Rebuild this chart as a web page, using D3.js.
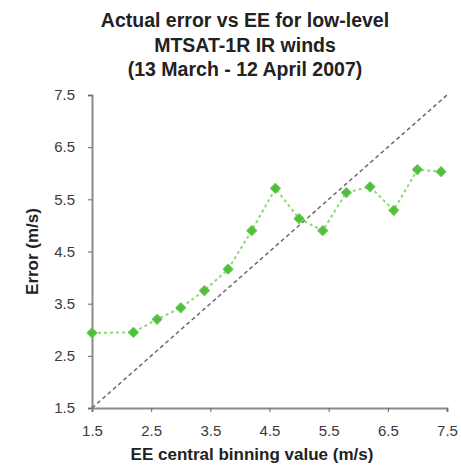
<!DOCTYPE html>
<html>
<head>
<meta charset="utf-8">
<script src="https://cdn.jsdelivr.net/npm/d3@7"></script>
<style>
  body { margin: 0; background: #fff; }
  svg { font-family: "Liberation Sans", Arial, sans-serif; }
</style>
</head>
<body>
<div id="chart"></div>
<script>
// Dữ liệu
const eeBins = [1.5, 2.2, 2.6, 3.0, 3.4, 3.8, 4.2, 4.6, 5.0, 5.4, 5.8, 6.2, 6.6, 7.0, 7.4];
const actualError = [2.94, 2.95, 3.2, 3.42, 3.75, 4.16, 4.9, 5.71, 5.13, 4.9, 5.63, 5.74, 5.29, 6.07, 6.03];
const tickValues = [1.5, 2.5, 3.5, 4.5, 5.5, 6.5, 7.5];
const titleLines = ["Actual error vs EE for low-level", "MTSAT-1R IR winds", "(13 March - 12 April 2007)"];

const width = 461, height = 469;
const margin = { top: 95, right: 14, bottom: 61, left: 92 };

const svg = d3.select("#chart").append("svg")
    .attr("width", width)
    .attr("height", height);

const x = d3.scaleLinear().domain([1.5, 7.5]).range([margin.left, width - margin.right]);
const y = d3.scaleLinear().domain([1.5, 7.5]).range([height - margin.bottom, margin.top]);

// Trục
const xAxis = svg.append("g")
    .attr("transform", `translate(0,${height - margin.bottom})`)
    .call(d3.axisBottom(x).tickValues(tickValues).tickFormat(d3.format(".1f")).tickSizeOuter(0).tickSize(4));
const yAxis = svg.append("g")
    .attr("transform", `translate(${margin.left},0)`)
    .call(d3.axisLeft(y).tickValues(tickValues).tickFormat(d3.format(".1f")).tickSizeOuter(0).tickSize(4));

[xAxis, yAxis].forEach(g => {
    g.select(".domain").attr("stroke", "#8a8a8a").attr("stroke-width", 2);
    g.selectAll(".tick line").attr("stroke", "#666");
    g.selectAll(".tick text").attr("fill", "#3a3a3a").style("font-size", "15px");
});
xAxis.selectAll(".tick text").attr("y", 10).attr("dy", "1.2em");
yAxis.selectAll(".tick text").attr("x", -17);

// Đường chéo 1:1
svg.append("line")
    .attr("x1", x(1.5)).attr("y1", y(1.5))
    .attr("x2", x(7.5)).attr("y2", y(7.5))
    .attr("stroke", "#6a6a6a")
    .attr("stroke-width", 1.5)
    .attr("stroke-dasharray", "4,3");

const data = eeBins.map((v, i) => ({ ee: v, err: actualError[i] }));

// Đường dữ liệu
svg.append("path")
    .datum(data)
    .attr("fill", "none")
    .attr("stroke", "#8fd87a")
    .attr("stroke-width", 2)
    .attr("stroke-dasharray", "3,3")
    .attr("d", d3.line().x(d => x(d.ee)).y(d => y(d.err)));

svg.selectAll(".pt")
    .data(data)
    .enter()
    .append("path")
    .attr("class", "pt")
    .attr("transform", d => `translate(${x(d.ee)},${y(d.err)}) rotate(45)`)
    .attr("d", d3.symbol().type(d3.symbolSquare).size(42))
    .attr("fill", "#4fbf3a")
    .attr("stroke", "#5cc547")
    .attr("stroke-width", 1.5)
    .attr("stroke-linejoin", "round");

// Tiêu đề
svg.append("text")
    .attr("x", 245)
    .attr("y", 27)
    .attr("text-anchor", "middle")
    .style("font-size", "19.5px")
    .style("font-weight", "bold")
    .attr("fill", "#222")
    .selectAll("tspan")
    .data(titleLines)
    .enter()
    .append("tspan")
    .attr("x", 245)
    .attr("dy", (d, i) => i === 0 ? 0 : 24.5)
    .text(d => d);

// Nhãn trục
svg.append("text")
    .attr("x", 252)
    .attr("y", 460)
    .attr("text-anchor", "middle")
    .style("font-size", "17px")
    .style("font-weight", "bold")
    .attr("fill", "#222")
    .text("EE central binning value (m/s)");

svg.append("text")
    .attr("transform", `translate(38,${(y(1.5) + y(7.5)) / 2}) rotate(-90)`)
    .attr("text-anchor", "middle")
    .style("font-size", "17px")
    .style("font-weight", "bold")
    .attr("fill", "#222")
    .text("Error (m/s)");
</script>
</body>
</html>
